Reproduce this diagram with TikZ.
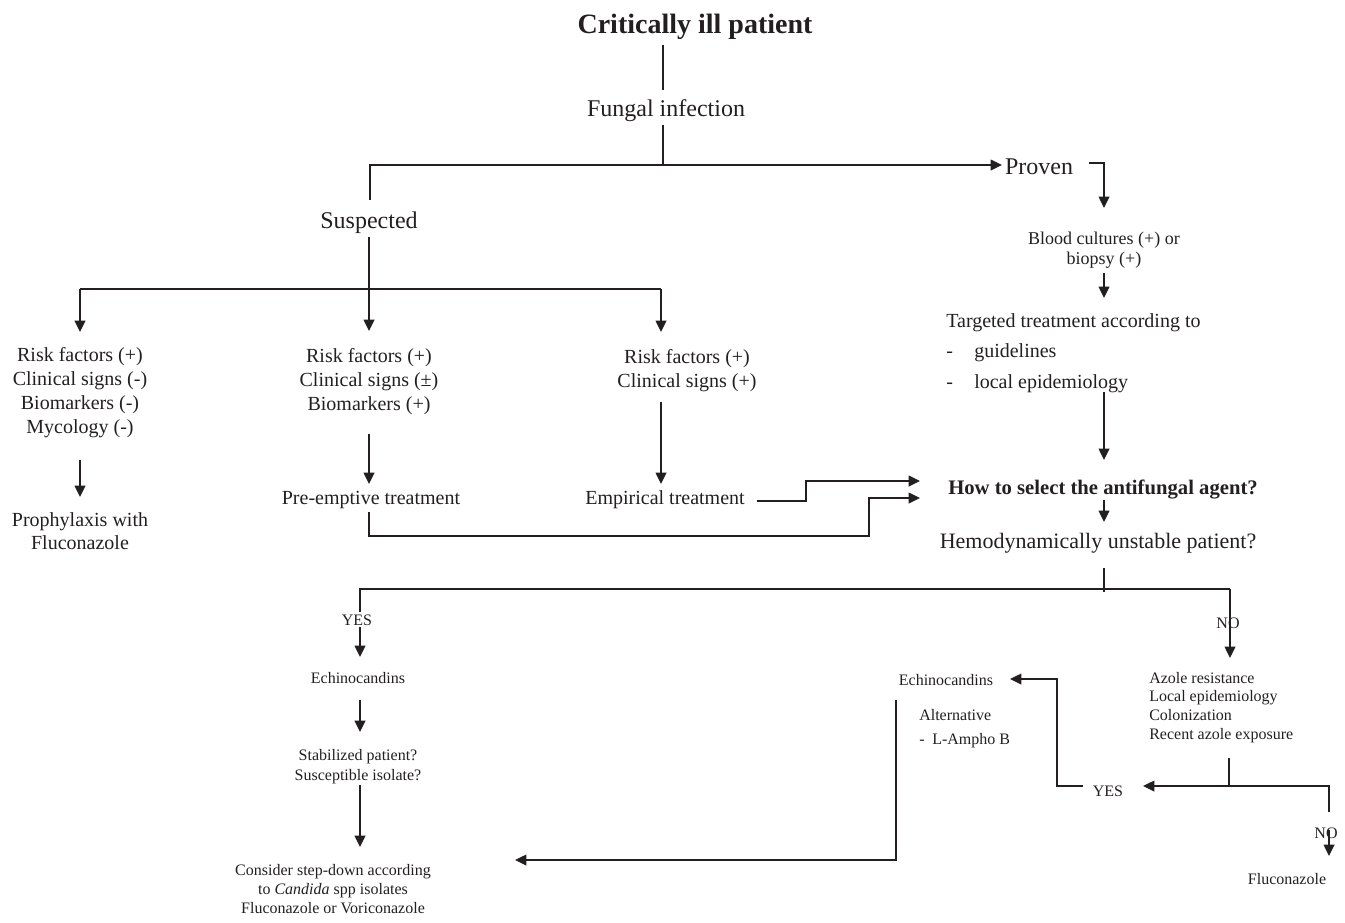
\documentclass[tikz,border=0pt]{standalone}
\usepackage{fontspec}
\setmainfont{Liberation Serif}
\usetikzlibrary{arrows.meta}
\definecolor{ink}{RGB}{35,31,32}
\begin{document}
\begin{tikzpicture}[x=0.75pt,y=-0.75pt]
\tikzset{
  ln/.style={line width=1.1pt, draw=ink},
  arr/.style={ln, -{Triangle[length=8.5pt,width=8pt]}},
  txt/.style={inner sep=0pt, align=center, text=ink, yshift=-2.2pt},
  txs/.style={inner sep=0pt, align=center, text=ink, yshift=-0.9pt},
  fbig/.style={txt, font=\fontsize{18}{21}\selectfont},
  fmid/.style={txt, font=\fontsize{15}{18}\selectfont},
  fsm/.style={txs, font=\fontsize{12}{14}\selectfont},
}
\useasboundingbox (0,0) rectangle (1345,922);

% ---------- nodes ----------
\node[txt, font=\bfseries\fontsize{21}{24}\selectfont] (title) at (695,24) {Critically ill patient};
\node[fbig] (fungal) at (666,108) {Fungal infection};
\node[fbig] (susp) at (369,220) {Suspected};
\node[fbig] (proven) at (1039,164) {Proven};
\node[txt, font=\fontsize{13.5}{15}\selectfont] (blood) at (1104,247) {Blood cultures (+) or\\biopsy (+)};
\node[txt, align=left, anchor=west, font=\fontsize{15}{23}\selectfont] (targ) at (946,350)
  {Targeted treatment according to\\\makebox[21pt][l]{-}guidelines\\\makebox[21pt][l]{-}local epidemiology};

\node[fmid] (rfA) at (80,390) {Risk factors (+)\\Clinical signs (-)\\Biomarkers (-)\\Mycology (-)};
\node[txt, font=\fontsize{15}{17.5}\selectfont] (proph) at (80,528) {Prophylaxis with\\Fluconazole};
\node[fmid] (rfB) at (369,379) {Risk factors (+)\\Clinical signs (±)\\Biomarkers (+)};
\node[fmid] (pre) at (371,497) {Pre-emptive treatment};
\node[fmid] (rfC) at (687,368) {Risk factors (+)\\Clinical signs (+)};
\node[fmid] (emp) at (665,497) {Empirical treatment};

\node[txt, font=\bfseries\fontsize{15.5}{18}\selectfont] (how) at (1103,487) {How to select the antifungal agent?};
\node[txt, font=\fontsize{16.5}{19}\selectfont] (hemo) at (1098,540) {Hemodynamically unstable patient?};

\node[fsm] (yes1) at (357,619) {YES};
\node[fsm] (no1) at (1228,622) {NO};
\node[fsm] (echL) at (358,677) {Echinocandins};
\node[txs, font=\fontsize{12}{15}\selectfont] (stab) at (358,765) {Stabilized patient?\\Susceptible isolate?};
\node[txs, font=\fontsize{12}{14.3}\selectfont] (cons) at (333,888) {Consider step-down according\\to \textit{Candida} spp isolates\\Fluconazole or Voriconazole};

\node[fsm] (echR) at (946,679) {Echinocandins};
\node[txs, align=left, anchor=west, font=\fontsize{12}{18}\selectfont] (alt) at (919,727) {Alternative\\\makebox[9.75pt][l]{-}L-Ampho B};
\node[txs, align=left, anchor=west, font=\fontsize{12}{14}\selectfont] (azole) at (1149,706)
  {Azole resistance\\Local epidemiology\\Colonization\\Recent azole exposure};
\node[fsm] (yes2) at (1108,790) {YES};
\node[fsm] (no2) at (1326,832) {NO};
\node[fsm] (fluco) at (1287,878) {Fluconazole};

% ---------- connector points ----------
\coordinate (t1) at (663,45);   \coordinate (t2) at (663,90);
\coordinate (f1) at (663,125);  \coordinate (f2) at (663,165);
\coordinate (s0) at (370,200);  \coordinate (pv) at (1002,165);
\coordinate (p1) at (1089,163); \coordinate (p2) at (1104,208);
\coordinate (b1) at (1104,273); \coordinate (b2) at (1104,298);
\coordinate (g1) at (1104,392); \coordinate (g2) at (1104,460);
\coordinate (h1) at (1104,500); \coordinate (h2) at (1104,522);
\coordinate (h3) at (1104,568); \coordinate (h4) at (1104,592);
\coordinate (hl) at (360,589);  \coordinate (hr) at (1230,589);
\coordinate (y0) at (360,612);
\coordinate (ya1) at (360,627); \coordinate (ya2) at (360,657);
\coordinate (nt) at (1230,658);
\coordinate (e1) at (360,700);  \coordinate (e2) at (360,732);
\coordinate (s1) at (360,785);  \coordinate (s2) at (360,847);
\coordinate (a1) at (1229,758); \coordinate (a2) at (1229,786);
\coordinate (r1) at (1329,812); \coordinate (ya) at (1143,786);
\coordinate (r2) at (1329,830); \coordinate (r3) at (1329,856);
\coordinate (y1) at (1083,786); \coordinate (y3) at (1057,679); \coordinate (y4) at (1010,679);
\coordinate (c1) at (896,700);  \coordinate (c3) at (515,860);
\coordinate (q1) at (369,512);  \coordinate (q3) at (869,536); \coordinate (q5) at (920,498);
\coordinate (m1) at (757,501);  \coordinate (m3) at (806,481); \coordinate (m4) at (920,481);
\coordinate (sA) at (369,237);  \coordinate (sB) at (369,331);
\coordinate (L1) at (80,289);   \coordinate (L2) at (80,332);
\coordinate (R1) at (661,289);  \coordinate (R2) at (661,332);
\coordinate (k1) at (80,460);   \coordinate (k2) at (80,497);
\coordinate (k3) at (369,434);  \coordinate (k4) at (369,484);
\coordinate (k5) at (661,402);  \coordinate (k6) at (661,484);

% ---------- connectors ----------
\draw[ln] (t1) -- (t2);
\draw[ln] (f1) -- (f2);
\draw[arr] (s0) |- (pv);
\draw[arr] (p1) -| (p2);
\draw[arr] (b1) -- (b2);
\draw[arr] (g1) -- (g2);
\draw[arr] (h1) -- (h2);
\draw[ln] (h3) -- (h4);
\draw[ln] (y0) -- (hl) -- (hr);
\draw[arr] (hr) -- (nt);
\draw[arr] (ya1) -- (ya2);
\draw[arr] (e1) -- (e2);
\draw[arr] (s1) -- (s2);
\draw[ln] (a1) -- (a2);
\draw[arr] (r1) |- (ya);
\draw[arr] (r2) -- (r3);
\draw[arr] (y1) -| (y3) -- (y4);
\draw[arr] (c1) |- (c3);
\draw[arr] (q1) |- (q3) |- (q5);
\draw[arr] (m1) -| (m3) -- (m4);
\draw[arr] (sA) -- (sB);
\draw[ln] (L1) -- (R1);
\draw[arr] (L1) -- (L2);
\draw[arr] (R1) -- (R2);
\draw[arr] (k1) -- (k2);
\draw[arr] (k3) -- (k4);
\draw[arr] (k5) -- (k6);
\end{tikzpicture}
\end{document}
